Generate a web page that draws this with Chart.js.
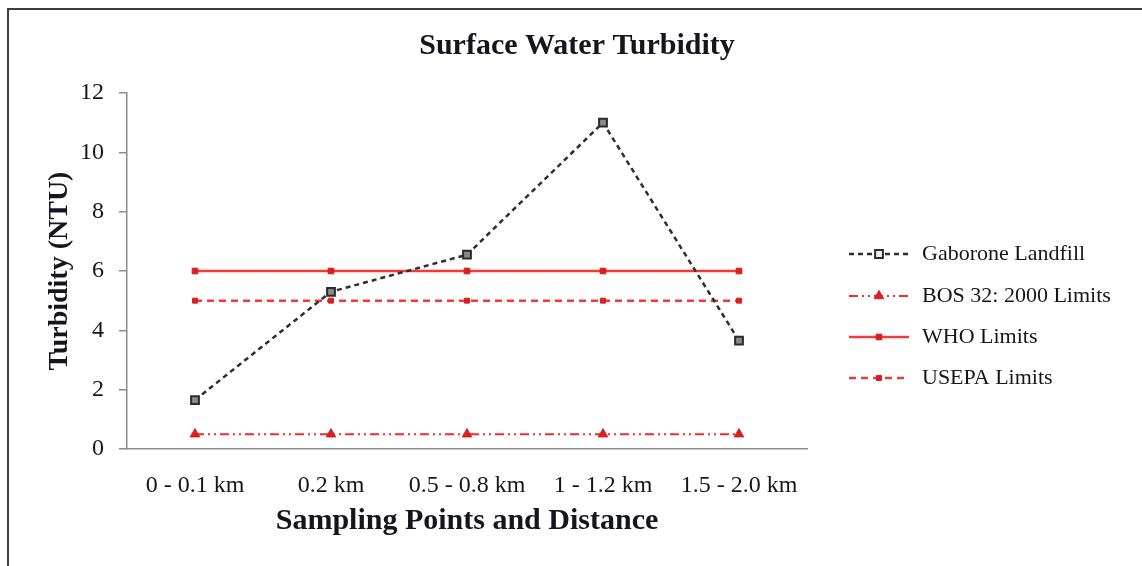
<!DOCTYPE html>
<html>
<head>
<meta charset="utf-8">
<script src="https://cdn.jsdelivr.net/npm/chart.js@4.4.1/dist/chart.umd.min.js"></script>
<style>
  html, body { margin: 0; padding: 0; background: #fff; }
  #wrap { width: 1142px; height: 566px; position: relative; }
</style>
</head>
<body>
<div id="wrap"><canvas id="chart"></canvas></div>
<script>
// values
const sites = ['0 - 0.1 km', '0.2 km', '0.5 - 0.8 km', '1 - 1.2 km', '1.5 - 2.0 km'];
const gaboroneLandfill = [1.65, 5.3, 6.55, 11, 3.65];
const bosLimits = [0.5, 0.5, 0.5, 0.5, 0.5];
const whoLimits = [6, 6, 6, 6, 6];
const usepaLimits = [5, 5, 5, 5, 5];
const yTicks = [0, 2, 4, 6, 8, 10, 12];

const serif = '"Liberation Serif", "Times New Roman", serif';
const textColor = '#15151f';
const axisColor = '#8c8c8c';

// frame, title and legend are drawn by hand
const decorations = {
    id: 'decorations',
    beforeDraw(chart) {
        const ctx = chart.ctx;
        ctx.save();
        ctx.strokeStyle = '#3c3c3c';
        ctx.lineWidth = 2;
        ctx.strokeRect(8, 9, 1200, 600);
        ctx.restore();
    },
    afterDraw(chart) {
        const ctx = chart.ctx;
        ctx.save();
        ctx.fillStyle = textColor;
        ctx.font = 'bold 30px ' + serif;
        ctx.textAlign = 'center';
        ctx.textBaseline = 'middle';
        ctx.fillText('Surface Water Turbidity', 577, 46);

        const rows = [254, 296, 337, 378];
        chart.data.datasets.forEach((ds, i) => {
            const y = rows[i];
            ctx.save();
            ctx.strokeStyle = ds.borderColor;
            ctx.lineWidth = ds.borderWidth;
            ctx.setLineDash(ds.borderDash || []);
            ctx.beginPath();
            ctx.moveTo(849, y);
            ctx.lineTo(909, y);
            ctx.stroke();
            ctx.setLineDash([]);
            ctx.fillStyle = ds.legendFill || ds.pointBackgroundColor;
            ctx.strokeStyle = ds.pointBorderColor;
            ctx.lineWidth = ds.pointBorderWidth;
            Chart.helpers.drawPoint(ctx, {
                pointStyle: ds.pointStyle,
                radius: ds.pointRadius,
                rotation: 0,
                borderWidth: ds.pointBorderWidth
            }, 879, y);
            ctx.restore();

            ctx.fillStyle = textColor;
            ctx.font = '22px ' + serif;
            ctx.textAlign = 'left';
            ctx.textBaseline = 'middle';
            ctx.fillText(ds.label, 922, y);
        });
        ctx.restore();
    }
};

new Chart(document.getElementById('chart'), {
    type: 'line',
    data: {
        labels: sites,
        datasets: [{
            label: 'Gaborone Landfill',
            data: gaboroneLandfill,
            borderColor: '#2e2e2e',
            borderWidth: 2.5,
            borderDash: [5, 4],
            pointStyle: 'rect',
            pointRadius: 5.5,
            pointBackgroundColor: '#8a8a8a',
            pointBorderColor: '#2a2a2a',
            pointBorderWidth: 2,
            legendFill: '#f4f4f4'
        }, {
            label: 'BOS 32: 2000 Limits',
            data: bosLimits,
            borderColor: '#f02c2c',
            borderWidth: 2,
            borderDash: [9, 4, 2, 4, 2, 4],
            pointStyle: 'triangle',
            pointRadius: 5.5,
            pointBackgroundColor: '#d81e1e',
            pointBorderColor: '#d81e1e',
            pointBorderWidth: 1
        }, {
            label: 'WHO Limits',
            data: whoLimits,
            borderColor: '#f23a3a',
            borderWidth: 2.5,
            pointStyle: 'rect',
            pointRadius: 4,
            pointBackgroundColor: '#d82020',
            pointBorderColor: '#d82020',
            pointBorderWidth: 1
        }, {
            label: 'USEPA Limits',
            data: usepaLimits,
            borderColor: '#f23a3a',
            borderWidth: 2.5,
            borderDash: [7, 5],
            pointStyle: 'rect',
            pointRadius: 3.5,
            pointBackgroundColor: '#d82020',
            pointBorderColor: '#d82020',
            pointBorderWidth: 1
        }]
    },
    options: {
        responsive: true,
        maintainAspectRatio: false,
        animation: false,
        layout: { padding: { top: 93, right: 335, bottom: 0, left: 0 } },
        plugins: {
            legend: { display: false },
            title: { display: false },
            tooltip: { enabled: false }
        },
        scales: {
            x: {
                offset: true,
                afterFit: s => { s.height = 117; },
                grid: { display: true, drawOnChartArea: false, drawTicks: false },
                border: { color: axisColor, width: 1.5 },
                ticks: { padding: 22, color: textColor, font: { family: serif, size: 24 } },
                title: {
                    display: true,
                    text: 'Sampling Points and Distance',
                    color: textColor,
                    font: { family: serif, size: 30, weight: 'bold' },
                    padding: { top: 0, bottom: 27 }
                }
            },
            y: {
                min: 0,
                max: 12,
                afterFit: s => { s.width = 127; },
                afterBuildTicks: s => { s.ticks = yTicks.map(v => ({ value: v })); },
                grid: { display: true, drawOnChartArea: false, tickLength: 8, color: axisColor, lineWidth: 1.5 },
                border: { color: axisColor, width: 1.5 },
                ticks: { padding: 15, color: textColor, font: { family: serif, size: 24 } },
                title: {
                    display: true,
                    text: 'Turbidity (NTU)',
                    color: textColor,
                    font: { family: serif, size: 28, weight: 'bold' },
                    padding: { top: 43, bottom: 0 }
                }
            }
        }
    },
    plugins: [decorations]
});
</script>
</body>
</html>
